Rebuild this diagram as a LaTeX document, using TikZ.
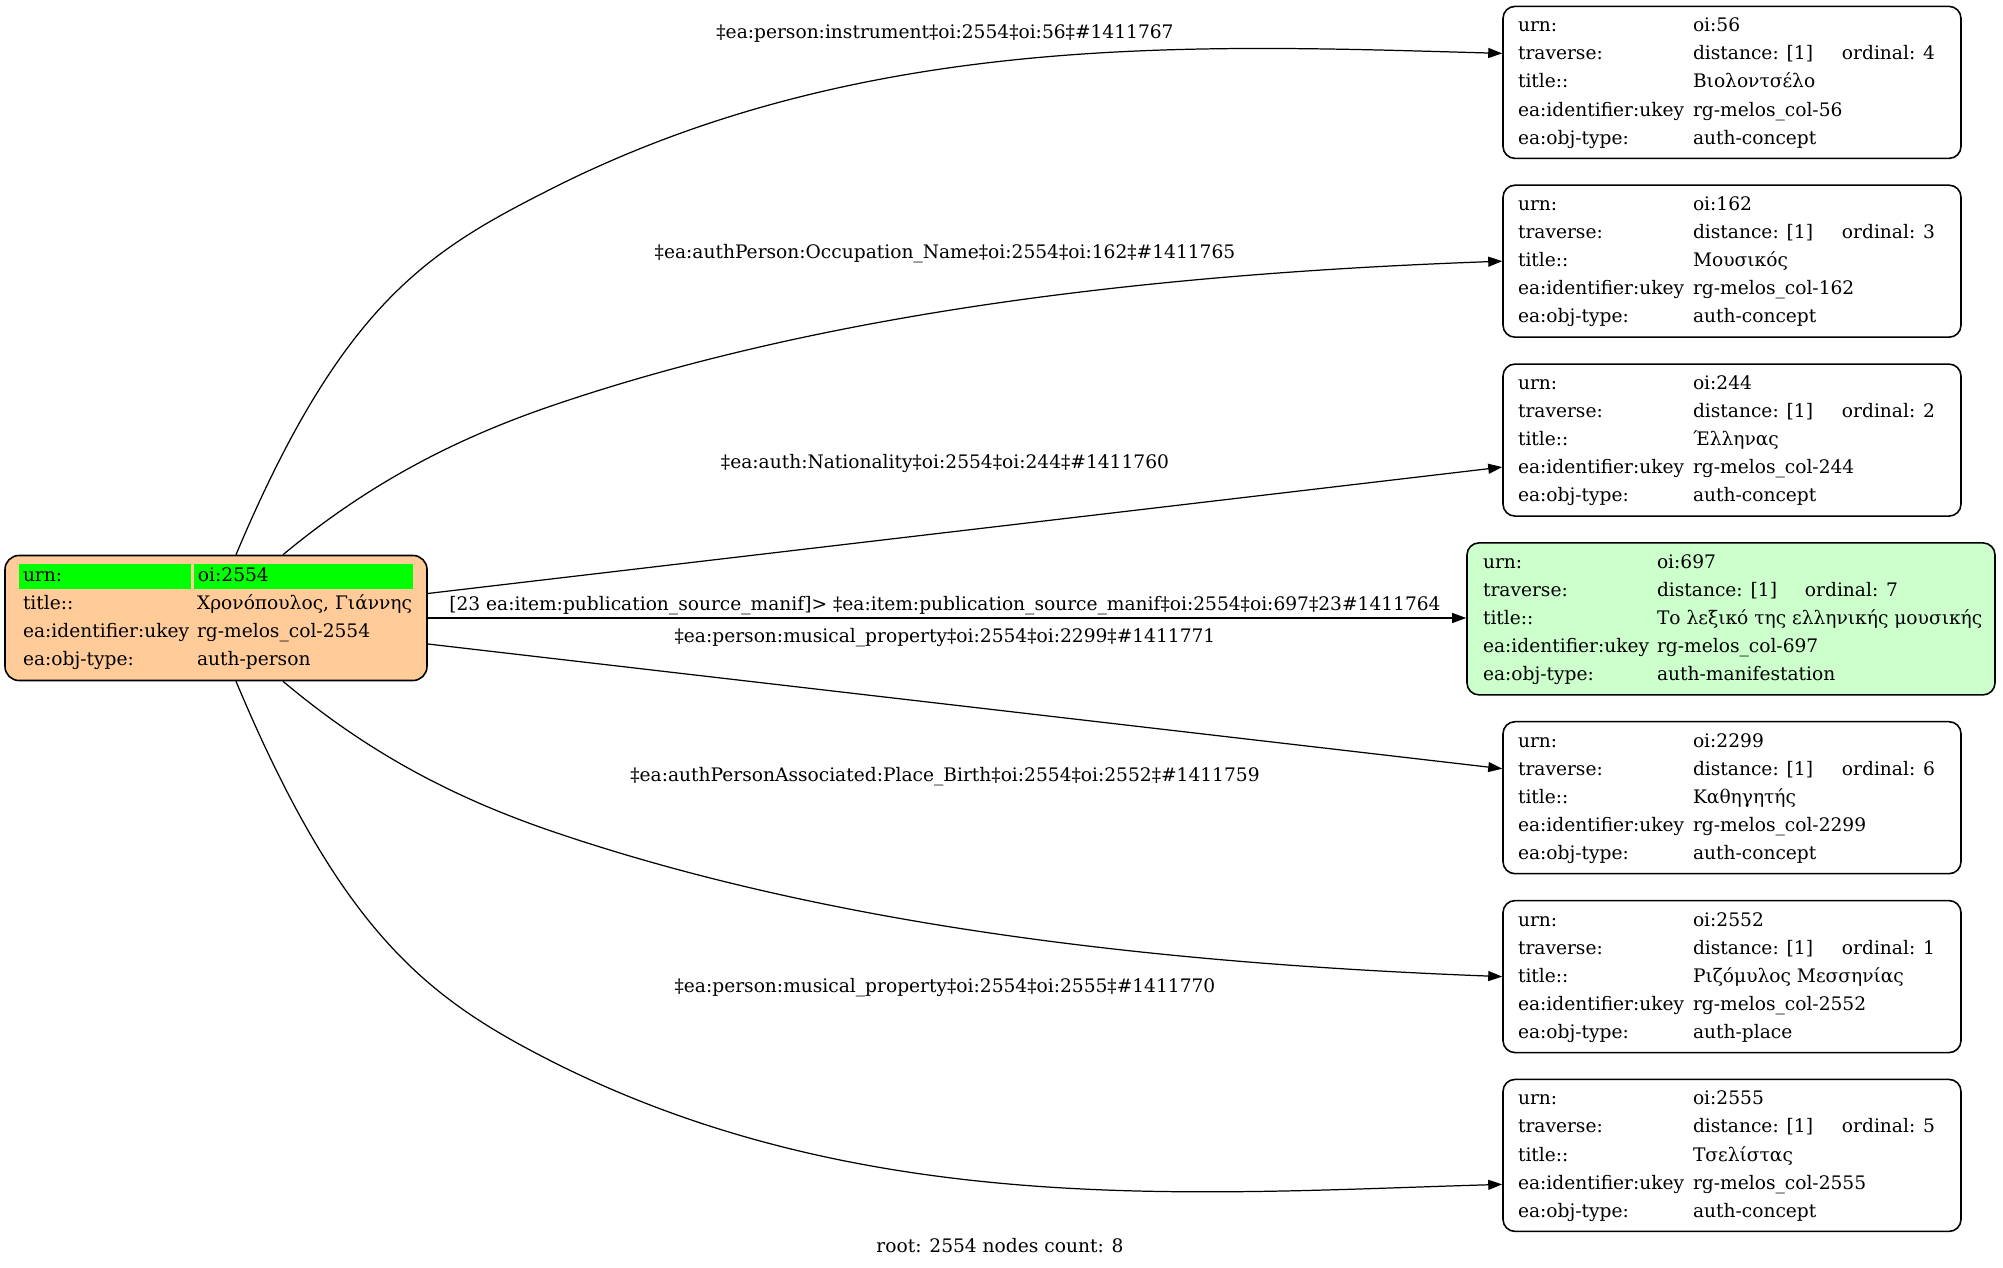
\documentclass[tikz,border=0pt]{standalone}
\usepackage{fontspec}
\setmainfont{DejaVu Serif}
\usepackage{array}
\usetikzlibrary{arrows.meta}

\definecolor{rootfill}{HTML}{FFCC99}
\definecolor{hitfill}{HTML}{CCFFCC}
\definecolor{urngreen}{HTML}{00FF00}

% text that may run past its column
\newcommand{\ov}[1]{\leavevmode\rlap{#1}}
% record rows: widths of the three columns, then urn, ordinal, title, ukey, type
\newcommand{\oirec}[8]{%
  \begin{tabular}{@{}p{#1}@{}p{#2}@{}p{#3}@{}}
    urn: & \ov{#4} & \\
    traverse: & distance: [1] & ordinal: #5\\
    title:: & \ov{#6} & \\
    ea:identifier:ukey & \ov{#7} & \\
    ea:obj-type: & \ov{#8} &
  \end{tabular}}
\newcommand{\urncell}[2]{{\setlength{\fboxsep}{0pt}\colorbox{urngreen}{\makebox[#1][l]{\hspace*{0.04cm}\rule[-0.07cm]{0pt}{0.25cm}#2}}}}

\tikzset{
  recbox/.style={draw, line width=0.45pt, rounded corners=0.12cm, inner xsep=0.15cm, inner ysep=0pt,
    minimum width=4.58cm, minimum height=1.52cm},
  rootbox/.style={recbox, fill=rootfill, rounded corners=0.14cm, inner xsep=0.14cm,
    minimum width=4.22cm, minimum height=1.25cm},
  hitbox/.style={recbox, fill=hitfill, inner xsep=0.16cm, minimum width=5.28cm},
  elabel/.style={inner sep=0pt},
  edge/.style={line width=0.35pt, -{Triangle[length=0.14cm,width=0.1cm]}}
}

\begin{document}
\begin{tikzpicture}[font=\fontsize{5.3}{7.97}\selectfont]
                            \useasboundingbox (0,0) rectangle (20.03,-12.68);
                            % Records:
                            \node[rootbox] (root) at (2.16, -6.18){%
                              \begin{tabular}{@{}p{1.75cm}@{}p{2.19cm}@{}}
                                \urncell{1.72cm}{urn:} & \urncell{2.19cm}{oi:2554}\\
                                \hspace*{0.04cm}title:: & \hspace*{0.03cm}\ov{Χρονόπουλος, Γιάννης}\\
                                \hspace*{0.04cm}ea:identifier:ukey & \hspace*{0.03cm}\ov{rg-melos\_col-2554}\\
                                \hspace*{0.04cm}ea:obj-type: & \hspace*{0.03cm}\ov{auth-person}
                              \end{tabular}};
                            \node[recbox] (n56) at (17.32, -0.824){\oirec{1.75cm}{1.49cm}{1.04cm}{oi:56}{4}{Βιολοντσέλο}{rg-melos\_col-56}{auth-concept}};
                            \node[recbox] (n162) at (17.32, -2.612){\oirec{1.75cm}{1.49cm}{1.04cm}{oi:162}{3}{Μουσικός}{rg-melos\_col-162}{auth-concept}};
                            \node[recbox] (n244) at (17.32, -4.401){\oirec{1.75cm}{1.49cm}{1.04cm}{oi:244}{2}{Έλληνας}{rg-melos\_col-244}{auth-concept}};
                            \node[hitbox] (n697) at (17.31, -6.189){\oirec{1.74cm}{1.48cm}{1.74cm}{oi:697}{7}{Το λεξικό της ελληνικής μουσικής}{rg-melos\_col-697}{auth-manifestation}};
                            \node[recbox] (n2299) at (17.32, -7.977){\oirec{1.75cm}{1.49cm}{1.04cm}{oi:2299}{6}{Καθηγητής}{rg-melos\_col-2299}{auth-concept}};
                            \node[recbox] (n2552) at (17.32, -9.766){\oirec{1.75cm}{1.49cm}{1.04cm}{oi:2552}{1}{Ριζόμυλος Μεσσηνίας}{rg-melos\_col-2552}{auth-place}};
                            \node[recbox] (n2555) at (17.32, -11.554){\oirec{1.75cm}{1.49cm}{1.04cm}{oi:2555}{5}{Τσελίστας}{rg-melos\_col-2555}{auth-concept}};
                            % Links:
                            \draw[edge] ([xshift=0.2cm]root.north) .. controls (3.44, -2.98) and (4.32, -2.49) .. (5.57, -1.86)
                              .. controls (8.70, -0.30) and (12.03, -0.45) .. ([yshift=0.29cm]n56.west);
                            \draw[edge] ([xshift=0.67cm]root.north) .. controls (3.67, -4.85) and (4.53, -4.39) .. (5.57, -4.04)
                              .. controls (8.41, -3.08) and (11.73, -2.73) .. (n162.west);
                            \draw[edge] ([yshift=0.245cm]root.east) -- ([yshift=-0.27cm]n244.west);
                            \draw[edge] (root.east) -- (root.east -| n697.west);
                            \draw[edge] ([yshift=-0.26cm]root.east) -- ([yshift=0.29cm]n2299.west);
                            \draw[edge] ([xshift=0.67cm]root.south) .. controls (3.67, -7.52) and (4.53, -7.98) .. (5.57, -8.33)
                              .. controls (8.41, -9.29) and (11.73, -9.64) .. (n2552.west);
                            \draw[edge] ([xshift=0.2cm]root.south) .. controls (3.44, -9.39) and (4.32, -10.01) .. (5.57, -10.64)
                              .. controls (8.70, -12.20) and (12.03, -11.93) .. ([yshift=-0.29cm]n2555.west);
                            % Link labels:
                            \node[elabel] (l56) at (9.45, -0.335){‡ea:person:instrument‡oi:2554‡oi:56‡\#1411767};
                            \node[elabel] (l162) at (9.45, -2.54){‡ea:authPerson:Occupation\_Name‡oi:2554‡oi:162‡\#1411765};
                            \node[elabel] (l244) at (9.45, -4.63){‡ea:auth:Nationality‡oi:2554‡oi:244‡\#1411760};
                            \node[elabel] (l697) at (9.45, -6.06){[23 ea:item:publication\_source\_manif]> ‡ea:item:publication\_source\_manif‡oi:2554‡oi:697‡23\#1411764};
                            \node[elabel] (l2299) at (9.45, -6.38){‡ea:person:musical\_property‡oi:2554‡oi:2299‡\#1411771};
                            \node[elabel] (l2552) at (9.45, -7.77){‡ea:authPersonAssociated:Place\_Birth‡oi:2554‡oi:2552‡\#1411759};
                            \node[elabel] (l2555) at (9.45, -9.88){‡ea:person:musical\_property‡oi:2554‡oi:2555‡\#1411770};
                            \node[elabel] (footer) at (10.0, -12.46){root: 2554 nodes count: 8};
                        \end{tikzpicture}
\end{document}
